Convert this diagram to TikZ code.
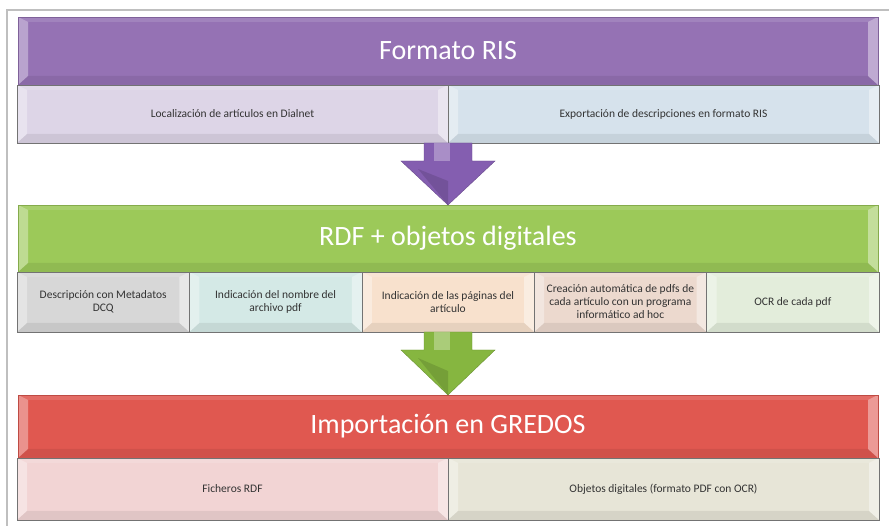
\documentclass[tikz,border=0pt]{standalone}
\usepackage{fontspec}
\setmainfont{Carlito}
\usetikzlibrary{positioning,calc}
\definecolor{risband}{RGB}{149,114,180}
\definecolor{risleft}{RGB}{221,213,231}
\definecolor{risright}{RGB}{214,226,236}
\definecolor{risarrow}{RGB}{132,94,176}
\definecolor{rdfband}{RGB}{156,201,89}
\definecolor{rdfgray}{RGB}{215,215,215}
\definecolor{rdfcyan}{RGB}{212,233,230}
\definecolor{rdfpeach}{RGB}{248,225,205}
\definecolor{rdfrose}{RGB}{236,217,206}
\definecolor{rdfpale}{RGB}{227,237,219}
\definecolor{rdfarrow}{RGB}{134,182,64}
\definecolor{grdband}{RGB}{224,88,80}
\definecolor{grdpink}{RGB}{242,212,212}
\definecolor{grdbeige}{RGB}{231,229,215}

\tikzset{
  bevelled/.style={path picture={
    \fill[white,opacity=0.35] (path picture bounding box.south west) -- (path picture bounding box.north west)
      -- ([shift={(10,-5)}]path picture bounding box.north west) -- ([shift={(10,9)}]path picture bounding box.south west) -- cycle;
    \fill[white,opacity=0.4] (path picture bounding box.south east) -- (path picture bounding box.north east)
      -- ([shift={(-10,-5)}]path picture bounding box.north east) -- ([shift={(-10,9)}]path picture bounding box.south east) -- cycle;
    \fill[white,opacity=0.12] (path picture bounding box.north west) -- (path picture bounding box.north east)
      -- ([shift={(-10,-5)}]path picture bounding box.north east) -- ([shift={(10,-5)}]path picture bounding box.north west) -- cycle;
    \fill[black,opacity=0.07] (path picture bounding box.south west) -- (path picture bounding box.south east)
      -- ([shift={(-10,9)}]path picture bounding box.south east) -- ([shift={(10,9)}]path picture bounding box.south west) -- cycle;
  }},
  band/.style={draw=#1!85!black, fill=#1, minimum width=860, inner sep=0, outer sep=0,
    text=white, font=\fontsize{28}{30}\selectfont, bevelled},
  subbox/.style={draw=black!55, fill=#1, inner sep=2, outer sep=0, align=center,
    text=black!80, font=\fontsize{11.5}{13}\selectfont, bevelled},
  blockarrow/.style={fill=#1, draw=#1!80!black, line width=0.4}
}

\begin{document}
\begin{tikzpicture}[x=1pt,y=1pt]
    \useasboundingbox (0,0) rectangle (889,526);

    % Marco
    \draw[black!25,line width=1.5] (7,0) -- (7,516) -- (889,516);

    % Formato RIS
    \node[band=risband, minimum height=68] (ris) at (448,475) {Formato RIS};
    \node[subbox=risleft, minimum width=431, minimum height=58, anchor=north west]
      (loc) at ([xshift=-1]ris.south west) {Localización de artículos en Dialnet};
    \node[subbox=risright, minimum width=431, minimum height=58, right=0pt of loc]
      (exp) {Exportación de descripciones en formato RIS};

    % RDF + objetos digitales
    \node[band=rdfband, minimum height=67] (rdf) at (448,287.5) {RDF + objetos digitales};
    \node[subbox=rdfgray, minimum width=172.4, minimum height=60, anchor=north west]
      (dcq) at ([xshift=-1]rdf.south west) {Descripción con Metadatos\\DCQ};
    \node[subbox=rdfcyan, minimum width=172.4, minimum height=60, right=0pt of dcq]
      (nom) {Indicación del nombre del\\archivo pdf};
    \node[subbox=rdfpeach, minimum width=172.4, minimum height=60, right=0pt of nom]
      (pag) {Indicación de las páginas del\\artículo};
    \node[subbox=rdfrose, minimum width=172.4, minimum height=60, right=0pt of pag]
      (pdfs) {Creación automática de pdfs de\\cada artículo con un programa\\informático ad hoc};
    \node[subbox=rdfpale, minimum width=172.4, minimum height=60, right=0pt of pdfs]
      (ocr) {OCR de cada pdf};

    % Importación en GREDOS
    \node[band=grdband, minimum height=63] (grd) at (448,99.5) {Importación en GREDOS};
    \node[subbox=grdpink, minimum width=431, minimum height=62, anchor=north west]
      (fich) at ([xshift=-1]grd.south west) {Ficheros RDF};
    \node[subbox=grdbeige, minimum width=431, minimum height=62, right=0pt of fich]
      (obj) {Objetos digitales (formato PDF con OCR)};

    % Flechas entre bloques
    \draw[blockarrow=risarrow] let \p1=(loc.south east), \p2=(rdf.north) in
      (\x1-24pt,\y1) -- (\x1+24pt,\y1) -- (\x1+24pt,\y2+44pt) -- (\x1+47pt,\y2+44pt)
      -- (\x1,\y2) -- (\x1-47pt,\y2+44pt) -- (\x1-24pt,\y2+44pt) -- cycle;
    \fill[white,opacity=0.3] let \p1=(loc.south east), \p2=(rdf.north) in
      (\x1-14pt,\y1) rectangle (\x1+2pt,\y2+44pt);
    \fill[black,opacity=0.12] let \p1=(loc.south east), \p2=(rdf.north) in
      (\x1-30pt,\y2+36pt) -- (\x1,\y2) -- (\x1,\y2+24pt) -- cycle;

    \draw[blockarrow=rdfarrow] let \p1=(pag.south), \p2=(grd.north) in
      (\x1-24pt,\y1) -- (\x1+24pt,\y1) -- (\x1+24pt,\y2+45pt) -- (\x1+47pt,\y2+45pt)
      -- (\x1,\y2) -- (\x1-47pt,\y2+45pt) -- (\x1-24pt,\y2+45pt) -- cycle;
    \fill[white,opacity=0.3] let \p1=(pag.south), \p2=(grd.north) in
      (\x1-14pt,\y1) rectangle (\x1+2pt,\y2+45pt);
    \fill[black,opacity=0.12] let \p1=(pag.south), \p2=(grd.north) in
      (\x1-30pt,\y2+37pt) -- (\x1,\y2) -- (\x1,\y2+24pt) -- cycle;

\end{tikzpicture}
\end{document}
